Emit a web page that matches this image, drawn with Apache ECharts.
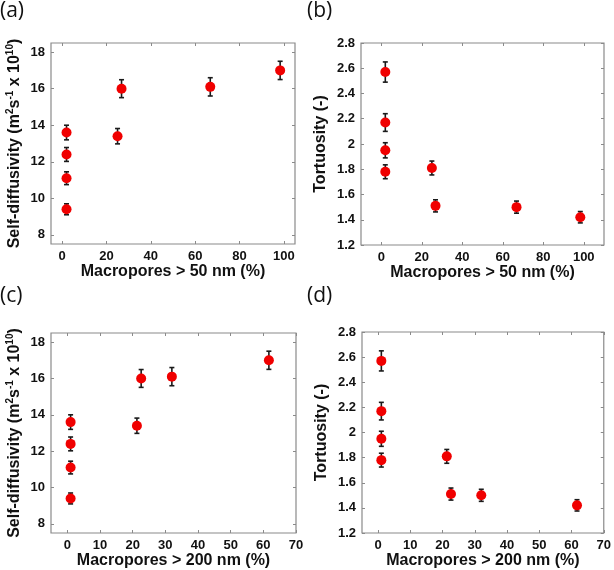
<!DOCTYPE html>
<html><head><meta charset="utf-8">
<script src="https://cdn.jsdelivr.net/npm/echarts@6/dist/echarts.min.js"></script>
<style>html,body{margin:0;padding:0;background:#fff}#c{width:614px;height:570px}</style>
</head><body><div id="c"></div>
<script>
// ---- data ----
const xMacro50 = [2, 2, 2, 2, 25, 26.8, 66.8, 98.3];
const xMacro200 = [1, 1, 1, 1, 21.3, 22.6, 32, 61.7];
const diffusivity = [9.4, 11.1, 12.4, 13.6, 13.4, 16.0, 16.1, 17.0];
const diffusivityErr = [0.3, 0.35, 0.38, 0.4, 0.42, 0.49, 0.5, 0.5];
const tortuosity = [2.57, 2.17, 1.95, 1.78, 1.81, 1.51, 1.50, 1.42];
const tortuosityErr = [0.08, 0.07, 0.06, 0.055, 0.055, 0.048, 0.048, 0.045];
const ticksX50 = [0, 20, 40, 60, 80, 100];
const ticksX200 = [0, 10, 20, 30, 40, 50, 60, 70];
const ticksDiff = [8, 10, 12, 14, 16, 18];
const ticksTort = [1.2, 1.4, 1.6, 1.8, 2, 2.2, 2.4, 2.6, 2.8];
const panelLabels = ['(a)', '(b)', '(c)', '(d)'];
const xTitle50 = 'Macropores > 50 nm (%)';
const xTitle200 = 'Macropores > 200 nm (%)';
const yTitleDiff = 'Self-diffusivity (m{sup|2}s{sup|-1} x 10{sup|10})';
const yTitleTort = 'Tortuosity (-)';

const chart = echarts.init(document.getElementById('c'), null, {renderer: 'canvas'});
const grids = [], xAxes = [], yAxes = [], series = [], graphics = [];
const FONT = 'Arial, "Liberation Sans", sans-serif';
const AX = '#8a8a8a';

function panel(i, rect, xr, xt, yr, yt, xs, ys, es, xName, yName, xGap, yGap) {
  grids.push({left: rect[0], top: rect[1], width: rect[2], height: rect[3], show: true,
    borderColor: AX, borderWidth: 1.2, backgroundColor: 'transparent'});
  const tick = {show: true, inside: true, length: 3, lineStyle: {color: AX, width: 1}};
  const lab = {fontFamily: FONT, fontWeight: 'bold', fontSize: 13, color: '#111'};
  const line = {show: false, onZero: false};
  xAxes.push({gridIndex: i, type: 'value', min: xr[0], max: xr[1], position: 'bottom',
    splitLine: {show: false}, axisLine: line,
    axisTick: Object.assign({customValues: xt}, tick),
    axisLabel: Object.assign({customValues: xt, margin: 6}, lab),
    name: xName, nameLocation: 'middle', nameGap: xGap,
    nameTextStyle: {fontFamily: FONT, fontWeight: 'bold', fontSize: 16, color: '#111'}});
  xAxes.push({gridIndex: i, type: 'value', min: xr[0], max: xr[1], position: 'top',
    splitLine: {show: false}, axisLine: line,
    axisTick: Object.assign({customValues: xt}, tick), axisLabel: {show: false}});
  yAxes.push({gridIndex: i, type: 'value', min: yr[0], max: yr[1], position: 'left',
    splitLine: {show: false}, axisLine: line,
    axisTick: Object.assign({customValues: yt}, tick),
    axisLabel: Object.assign({customValues: yt, margin: 6}, lab),
    name: yName, nameLocation: 'middle', nameGap: yGap, nameRotate: 90,
    nameTextStyle: {fontFamily: FONT, fontWeight: 'bold', fontSize: 16, color: '#111',
      rich: {sup: {fontFamily: FONT, fontWeight: 'bold', fontSize: 10, color: '#111', padding: [0, 0, 9, 0]}}}});
  yAxes.push({gridIndex: i, type: 'value', min: yr[0], max: yr[1], position: 'right',
    splitLine: {show: false}, axisLine: line,
    axisTick: Object.assign({customValues: yt}, tick), axisLabel: {show: false}});
  const data = xs.map((x, k) => [x, ys[k], es[k]]);
  series.push({type: 'custom', xAxisIndex: 2 * i, yAxisIndex: 2 * i, data: data, z: 2,
    encode: {x: 0, y: 1},
    renderItem: function (params, api) {
      const x = api.value(0), y = api.value(1), e = api.value(2);
      const t = api.coord([x, y + e]), b = api.coord([x, y - e]);
      const w = 2.5, st = {stroke: '#1a1a1a', lineWidth: 1.6};
      return {type: 'group', children: [
        {type: 'line', shape: {x1: t[0], y1: t[1], x2: b[0], y2: b[1]}, style: st},
        {type: 'line', shape: {x1: t[0] - w, y1: t[1], x2: t[0] + w, y2: t[1]}, style: st},
        {type: 'line', shape: {x1: b[0] - w, y1: b[1], x2: b[0] + w, y2: b[1]}, style: st}
      ]};
    }});
  series.push({type: 'scatter', xAxisIndex: 2 * i, yAxisIndex: 2 * i, z: 3,
    data: xs.map((x, k) => [x, ys[k]]), symbolSize: 10,
    itemStyle: {color: '#f00000', opacity: 1}});
}

panel(0, [51, 43, 244, 201], [-5, 105], ticksX50, [7.5, 18.5], ticksDiff, xMacro50, diffusivity, diffusivityErr, xTitle50, yTitleDiff, 18, 27);
panel(1, [361, 43, 243, 202], [-10, 110], ticksX50, [1.2, 2.8], ticksTort, xMacro50, tortuosity, tortuosityErr, xTitle50, yTitleTort, 18, 32);
panel(2, [51, 333, 245, 201], [-5, 70], ticksX200, [7.5, 18.5], ticksDiff, xMacro200, diffusivity, diffusivityErr, xTitle200, yTitleDiff, 20, 27);
panel(3, [362, 332, 243, 202], [-5, 70], ticksX200, [1.2, 2.8], ticksTort, xMacro200, tortuosity, tortuosityErr, xTitle200, yTitleTort, 20, 32);

const labelPos = [[0, 1], [307, 1], [0, 286], [307, 286]];
panelLabels.forEach((t, k) => graphics.push({type: 'text', left: labelPos[k][0], top: labelPos[k][1],
  style: {text: t, fontFamily: '"Open Sans", sans-serif', fontSize: 21, fill: '#111'}}));

chart.setOption({animation: false, grid: grids, xAxis: xAxes, yAxis: yAxes, series: series, graphic: graphics});
</script></body></html>
